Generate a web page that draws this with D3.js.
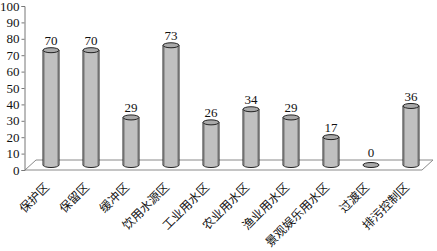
<!DOCTYPE html>
<html><head><meta charset="utf-8">
<script src="https://cdn.jsdelivr.net/npm/d3@7"></script>
<style>body{margin:0;background:#fff}</style>
</head><body>
<script>
const categories = ["保护区","保留区","缓冲区","饮用水源区","工业用水区","农业用水区","渔业用水区","景观娱乐用水区","过渡区","排污控制区"];
const values = [70,70,29,73,26,34,29,17,0,36];
const yTicks = [0,10,20,30,40,50,60,70,80,90,100];

const W=437,H=251;
const svg=d3.select("body").append("svg").attr("width",W).attr("height",H);
const depthX=11, depthY=10;
const y=d3.scaleLinear().domain([0,100]).range([170,6]);
const yBar=d3.scaleLinear().domain([0,100]).range([165,1]);
const x=d3.scaleBand().domain(categories).range([31,431]).paddingInner(0.6).paddingOuter(0.3);

// floor
const fx0=25, fx1=422, fy=170;
svg.append("path")
  .attr("d",`M${fx0},${fy}L${fx1},${fy}L${fx1+depthX},${fy-depthY}L${fx0+depthX},${fy-depthY}Z`)
  .attr("fill","#fff").attr("stroke","#8a8a8a").attr("stroke-width",1);

// y axis
const ax=svg.append("g").attr("transform","translate(24.5,0)")
  .call(d3.axisLeft(y).tickValues(yTicks).tickSize(3).tickPadding(2));
ax.select(".domain").attr("stroke","#777");
ax.selectAll(".tick line").attr("stroke","#777");
ax.selectAll(".tick text").attr("font-family","'Liberation Serif',serif").attr("font-size",13).attr("fill","#111");

// bars
const rx=8, ry=2.5;
const g=svg.append("g");
categories.forEach((c,i)=>{
  const v=values[i];
  const cx=x(c)+x.bandwidth()/2;
  const yb=yBar(0), yt=yBar(v);
  if(v>0){
    g.append("path")
      .attr("d",`M${cx-rx},${yt}L${cx-rx},${yb}A${rx},${ry} 0 0 0 ${cx+rx},${yb}L${cx+rx},${yt}Z`)
      .attr("fill","#c0c0c0").attr("stroke","#222").attr("stroke-width",1);
    g.append("line").attr("x1",cx-rx+1.5).attr("x2",cx-rx+1.5).attr("y1",yt+2).attr("y2",yb+1.5).attr("stroke","#9a9a9a");
    g.append("line").attr("x1",cx+rx-1.5).attr("x2",cx+rx-1.5).attr("y1",yt+2).attr("y2",yb+1.5).attr("stroke","#9a9a9a");
  }
  g.append("ellipse").attr("cx",cx).attr("cy",yt).attr("rx",rx).attr("ry",ry)
    .attr("fill","#a9a9a9").attr("stroke","#222").attr("stroke-width",1);
  g.append("text").attr("x",cx).attr("y",yt-(v>0?5:8)).attr("text-anchor","middle")
    .attr("font-family","'Liberation Serif',serif").attr("font-size",13).attr("fill","#111").text(v);
  svg.append("text").attr("transform",`translate(${cx-1},${188}) rotate(-45)`)
    .attr("text-anchor","end").attr("font-family","'Noto Sans CJK SC',sans-serif")
    .attr("font-size",12).attr("fill","#111").text(c);
});
</script>
</body></html>
